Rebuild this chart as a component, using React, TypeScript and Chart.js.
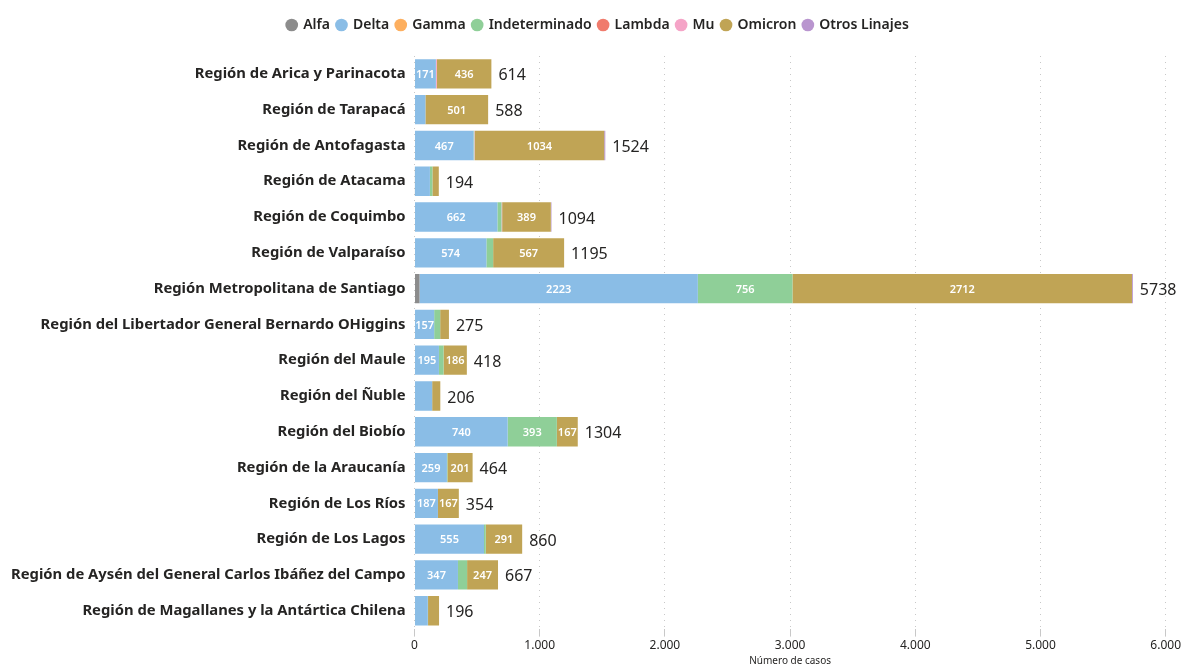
import React, { useEffect, useRef } from "react";
import { Chart, registerables } from "chart.js";

Chart.register(...registerables);

const regions = [
  "Región de Arica y Parinacota",
  "Región de Tarapacá",
  "Región de Antofagasta",
  "Región de Atacama",
  "Región de Coquimbo",
  "Región de Valparaíso",
  "Región Metropolitana de Santiago",
  "Región del Libertador General Bernardo OHiggins",
  "Región del Maule",
  "Región del Ñuble",
  "Región del Biobío",
  "Región de la Araucanía",
  "Región de Los Ríos",
  "Región de Los Lagos",
  "Región de Aysén del General Carlos Ibáñez del Campo",
  "Región de Magallanes y la Antártica Chilena",
];

const alfa = [0, 0, 4, 3, 0, 0, 40, 0, 0, 0, 4, 0, 0, 0, 0, 0];
const delta = [171, 87, 467, 120, 662, 574, 2223, 157, 195, 141, 740, 259, 187, 555, 347, 106];
const gamma = [0, 0, 0, 0, 0, 0, 0, 0, 0, 0, 0, 0, 0, 0, 0, 0];
const indeterminado = [0, 0, 6, 20, 33, 54, 756, 48, 37, 0, 393, 4, 0, 14, 73, 2];
const lambda = [0, 0, 0, 0, 0, 0, 0, 0, 0, 0, 0, 0, 0, 0, 0, 0];
const mu = [7, 0, 4, 0, 5, 0, 0, 0, 0, 0, 0, 0, 0, 0, 0, 0];
const omicron = [436, 501, 1034, 51, 389, 567, 2712, 70, 186, 65, 167, 201, 167, 291, 247, 88];
const otros = [0, 0, 9, 0, 5, 0, 7, 0, 0, 0, 0, 0, 0, 0, 0, 0];

const xTicks = [0, 1000, 2000, 3000, 4000, 5000, 6000];

const seriesNames = ["Alfa", "Delta", "Gamma", "Indeterminado", "Lambda", "Mu", "Omicron", "Otros Linajes"];
const seriesData = [alfa, delta, gamma, indeterminado, lambda, mu, omicron, otros];
const seriesColors = ["#8c8c8c", "#8abde6", "#fdaf5f", "#8fcf98", "#f07b6c", "#f5a4c7", "#c0a455", "#b995cf"];

const FONT = "'Noto Sans', sans-serif";

const fmt = (v: number) => v.toString().replace(/\B(?=(\d{3})+(?!\d))/g, ".");

const legendSpacing = {
  id: "legendSpacing",
  beforeInit(chart: any) {
    const origFit = chart.legend.fit;
    chart.legend.fit = function () {
      origFit.bind(chart.legend)();
      this.height += 14;
    };
  },
  afterLayout(chart: any) {
    chart.legend.left += 14;
    chart.legend.right += 14;
  },
};

const labelPlugin = {
  id: "barLabels",
  afterDatasetsDraw(chart: any) {
    const ctx = chart.ctx;
    const xs = chart.scales.x;
    ctx.save();
    ctx.textBaseline = "middle";
    ctx.font = `600 11px ${FONT}`;
    ctx.fillStyle = "#ffffff";
    ctx.textAlign = "center";
    chart.data.datasets.forEach((ds: any, di: number) => {
      const meta = chart.getDatasetMeta(di);
      meta.data.forEach((bar: any, i: number) => {
        const v = ds.data[i];
        if (v >= 150) {
          const cx = (bar.x + bar.base) / 2;
          ctx.fillText(String(v), cx, bar.y + 1);
        }
      });
    });
    ctx.font = `400 16px ${FONT}`;
    ctx.fillStyle = "#252423";
    ctx.textAlign = "left";
    const meta0 = chart.getDatasetMeta(0);
    regions.forEach((_, i) => {
      const total = seriesData.reduce((s, arr) => s + arr[i], 0);
      const x = xs.getPixelForValue(total) + 7;
      const y = meta0.data[i].y + 2;
      ctx.fillText(String(total), x, y);
    });
    ctx.restore();
  },
};

export default function App() {
  const ref = useRef<HTMLCanvasElement>(null);
  useEffect(() => {
    if (!ref.current) return;
    const chart = new Chart(ref.current, {
      type: "bar",
      data: {
        labels: regions,
        datasets: seriesNames.map((n, k) => ({
          label: n,
          data: seriesData[k],
          backgroundColor: seriesColors[k],
          borderWidth: 0,
          barPercentage: 0.82,
          categoryPercentage: 1,
        })),
      },
      options: {
        indexAxis: "y",
        animation: false,
        responsive: false,
        maintainAspectRatio: false,
        layout: { padding: { left: 2, right: 17, top: 11, bottom: 2 } },
        plugins: {
          legend: {
            position: "top",
            labels: {
              usePointStyle: true,
              pointStyle: "circle",
              boxWidth: 9,
              boxHeight: 9,
              padding: 7,
              color: "#252423",
              font: { family: FONT, size: 14, weight: "600" },
            },
          },
          tooltip: { enabled: false },
        },
        scales: {
          x: {
            stacked: true,
            min: 0,
            max: 6000,
            afterBuildTicks: (axis: any) => {
              axis.ticks = xTicks.map((v) => ({ value: v }));
            },
            grid: {
              color: "#c8c8c8",
              lineWidth: 1,
              tickLength: 8,
              drawTicks: true,
            },
            border: { display: false, dash: [1, 5] },
            ticks: {
              color: "#252423",
              font: { family: FONT, size: 12 },
              callback: (v: any) => fmt(Number(v)),
              maxRotation: 0,
              padding: 2,
            },
            title: {
              display: true,
              text: "Número de casos",
              color: "#252423",
              font: { family: FONT, size: 10 },
              padding: { top: 0, bottom: 0 },
            },
          },
          y: {
            stacked: true,
            grid: { display: false, drawTicks: false },
            border: { display: false },
            ticks: {
              color: "#252423",
              font: { family: FONT, size: 14.8, weight: "bold" },
              padding: 9,
              autoSkip: false,
            },
          },
        },
      },
      plugins: [labelPlugin, legendSpacing],
    } as any);
    (chart.options.scales as any).x.grid.borderDash = [1, 5];
    chart.update();
    return () => chart.destroy();
  }, []);
  return (
    <div style={{ position: "fixed", left: 0, top: 0, width: 1183, height: 669, background: "#fff" }}>
      <canvas ref={ref} width={1183} height={669} style={{ width: 1183, height: 669 }} />
    </div>
  );
}
